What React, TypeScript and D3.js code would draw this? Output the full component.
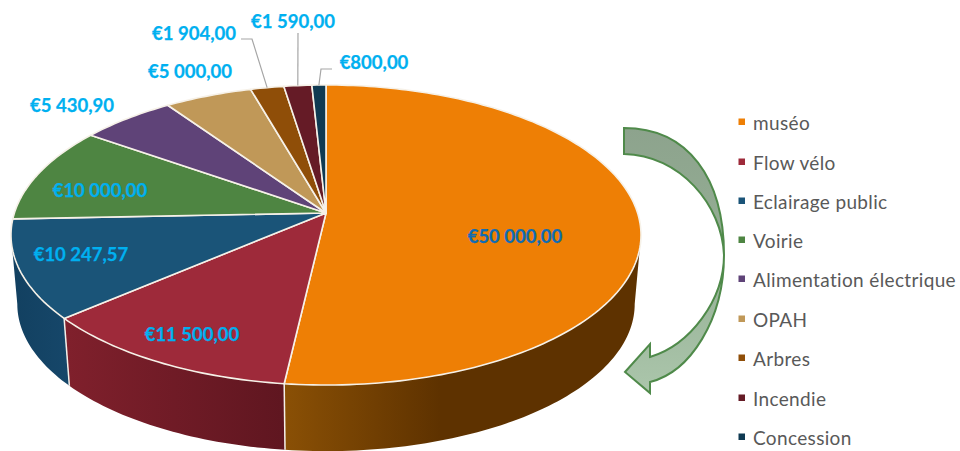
import React from 'react';
import * as d3 from 'd3';

const categories = ['muséo', 'Flow vélo', 'Eclairage public', 'Voirie', 'Alimentation électrique', 'OPAH', 'Arbres', 'Incendie', 'Concession'];
const amounts = [50000, 11500, 10247.57, 10000, 5430.9, 5000, 1904, 1590, 800];
const amountLabels = ['€50 000,00', '€11 500,00', '€10 247,57', '€10 000,00', '€5 430,90', '€5 000,00', '€1 904,00', '€1 590,00', '€800,00'];
const topColors = ['#EE7F05', '#9E2A3A', '#1A5478', '#4E8542', '#5F4378', '#C09858', '#8F4E08', '#651B26', '#0F3A52'];
const wallLight = ['#8A5005', '#80202C', '#16476A', '#446F3A', '#503866', '#A07F48', '#7A4206', '#551620', '#0C3046'];
const wallDark = ['#5E3200', '#5F1620', '#124060', '#3A6032', '#443058', '#8C6E3E', '#683805', '#48121B', '#0A283A'];

// label anchors, centre of the text
const labelX = [515, 192, 81, 100, 72, 190, 194, 293, 374];
const labelY = [236, 334, 254, 190, 105, 71, 33, 21, 62];

const legendY = [122, 162, 201, 240, 279, 319, 358, 398, 437];

// perspective of the disc
const cx = 326;
const cy = 213;
const persp = 0.1467;
const halfW = 311.6;
const halfH = 146.8;
const wallScale = 0.98;
const wallDrop = 69.5;

const project = (a: number): [number, number] => {
  const d = 1 + persp * Math.cos(a);
  return [cx + (halfW * Math.sin(a)) / d, cy - (halfH * Math.cos(a)) / d];
};
const projectLow = (a: number): [number, number] => {
  const [x, y] = project(a);
  return [cx + wallScale * (x - cx), cy + wallDrop + wallScale * (y - cy)];
};

const sample = (a0: number, a1: number) => {
  const n = Math.max(2, Math.ceil(Math.abs(a1 - a0) / 0.02));
  return d3.range(n + 1).map(i => a0 + ((a1 - a0) * i) / n);
};

const line = d3.line();
const frontStart = Math.acos(-persp);
const frontEnd = 2 * Math.PI - frontStart;

const App = () => {
  const arcs = d3.pie<number>().sort(null).value(d => d)(amounts);

  const walls = arcs
    .map((s, i) => {
      const a0 = Math.max(s.startAngle, frontStart);
      const a1 = Math.min(s.endAngle, frontEnd);
      if (a1 <= a0) return null;
      const upper = sample(a0, a1).map(project);
      const lower = sample(a0, a1).map(projectLow).reverse();
      const xs = [...upper, ...lower].map(p => p[0]);
      return { i, d: line([...upper, ...lower])! + 'Z', x0: d3.min(xs)!, x1: d3.max(xs)! };
    })
    .filter(Boolean) as { i: number; d: string; x0: number; x1: number }[];

  const rim = (i: number) => project(arcs[i].startAngle + (arcs[i].endAngle - arcs[i].startAngle) / 2);

  return (
    <svg
      width={960}
      height={451}
      viewBox="0 0 960 451"
      style={{ position: 'absolute', left: 0, top: 0, background: '#fff' }}
    >
      <defs>
        {walls.map(w => (
          <linearGradient
            key={w.i}
            id={`wall${w.i}`}
            gradientUnits="userSpaceOnUse"
            x1={w.i === 0 ? w.x0 : w.i === 1 ? w.x0 : w.x1}
            x2={w.i === 0 ? 440 : w.i === 1 ? w.x1 : w.x0}
            y1={0}
            y2={0}
          >
            <stop offset="0%" stopColor={wallLight[w.i]} />
            <stop offset="100%" stopColor={wallDark[w.i]} />
          </linearGradient>
        ))}
        <linearGradient id="arrowFill" x1="0" y1="0" x2="0" y2="1">
          <stop offset="0%" stopColor="#8DA38D" />
          <stop offset="45%" stopColor="#94AE94" />
          <stop offset="100%" stopColor="#ABC6AB" />
        </linearGradient>
      </defs>

      {/* side of the disc */}
      {walls.map(w => (
        <path key={w.i} d={w.d} fill={`url(#wall${w.i})`} />
      ))}
      {walls.slice(1).map(w => {
        const a = arcs[w.i].startAngle;
        return (
          <path key={w.i} d={line([project(a), projectLow(a)])!} stroke="#F4F0EA" strokeWidth={1.5} fill="none" />
        );
      })}

      {/* top of the disc */}
      {arcs.map((s, i) => (
        <path
          key={i}
          d={line([[cx, cy], ...sample(s.startAngle, s.endAngle).map(project)])! + 'Z'}
          fill={topColors[i]}
          stroke="#F6F1E8"
          strokeWidth={1.6}
          strokeLinejoin="round"
        />
      ))}

      {/* leader lines */}
      <g fill="none" stroke="#A6A6A6" strokeWidth={1.2}>
        <path d={line([[241, 39], [252, 39], rim(6)])!} />
        <path d={line([[298, 33], rim(7)])!} />
        <path d={line([[332, 69], [321, 69], rim(8)])!} />
      </g>

      {amountLabels.map((t, i) => (
        <text
          key={t}
          x={labelX[i]}
          y={labelY[i]}
          textAnchor="middle"
          dominantBaseline="central"
          fontFamily="Lato"
          fontWeight={700}
          fontSize={18.5}
          stroke={i === 0 ? '#0F6CB4' : '#00B0F0'}
          strokeWidth={0.25}
          fill={i === 0 ? '#0F6CB4' : '#00B0F0'}
        >
          {t}
        </text>
      ))}

      {/* arrow */}
      <path
        d="M624,128 C688,128 724,178 724,255 C724,320 690,372 650,382 L650,393 L625,372 L650,344 L650,357 C690,345 724,300 724,255 C722,205 680,155 624,154 Z"
        fill="url(#arrowFill)"
        stroke="#4F8A4A"
        strokeWidth={2}
      />

      {/* legend */}
      {categories.map((c, i) => (
        <g key={c}>
          <rect x={738.5} y={legendY[i] - 3.5} width={6.5} height={6.5} fill={topColors[i]} />
          <text
            x={753}
            y={legendY[i]}
            dominantBaseline="central"
            fontFamily="Lato"
            fontSize={19}
            letterSpacing={0.35}
            fill="#595959"
          >
            {c}
          </text>
        </g>
      ))}
    </svg>
  );
};

export default App;
